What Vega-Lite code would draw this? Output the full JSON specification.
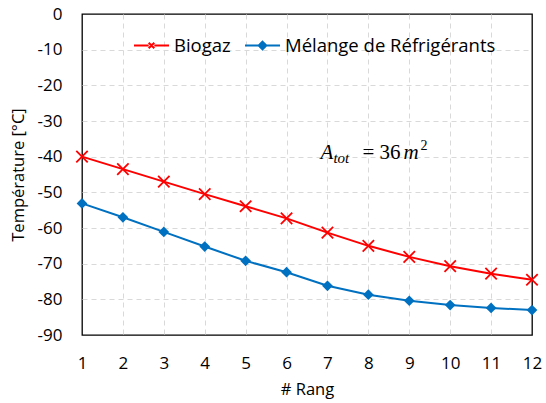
{
  "$schema": "https://vega.github.io/schema/vega-lite/v6.json",
  "width": 450,
  "height": 321,
  "autosize": {"type": "none"},
  "padding": {"left": 82, "top": 14, "right": 14, "bottom": 68},
  "background": "white",
  "config": {
    "font": "Open Sans",
    "view": {"stroke": "black", "strokeWidth": 1.3},
    "axis": {
      "domain": false,
      "grid": true,
      "gridColor": "#d9d9d9",
      "gridDash": [5, 4],
      "gridWidth": 1,
      "ticks": false,
      "labelFont": "Open Sans",
      "labelFontSize": 17,
      "labelColor": "#000000",
      "titleFont": "Open Sans",
      "titleFontSize": 16.5,
      "titleFontWeight": "normal",
      "titleColor": "#000000"
    }
  },
  "data": {
    "values": [
      {"rang": 1, "serie": "Biogaz", "temp": -40.0},
      {"rang": 2, "serie": "Biogaz", "temp": -43.5},
      {"rang": 3, "serie": "Biogaz", "temp": -47.0},
      {"rang": 4, "serie": "Biogaz", "temp": -50.5},
      {"rang": 5, "serie": "Biogaz", "temp": -53.9},
      {"rang": 6, "serie": "Biogaz", "temp": -57.3},
      {"rang": 7, "serie": "Biogaz", "temp": -61.3},
      {"rang": 8, "serie": "Biogaz", "temp": -65.0},
      {"rang": 9, "serie": "Biogaz", "temp": -68.1},
      {"rang": 10, "serie": "Biogaz", "temp": -70.7},
      {"rang": 11, "serie": "Biogaz", "temp": -72.8},
      {"rang": 12, "serie": "Biogaz", "temp": -74.5},
      {"rang": 1, "serie": "Mélange de Réfrigérants", "temp": -53.1},
      {"rang": 2, "serie": "Mélange de Réfrigérants", "temp": -57.0},
      {"rang": 3, "serie": "Mélange de Réfrigérants", "temp": -61.1},
      {"rang": 4, "serie": "Mélange de Réfrigérants", "temp": -65.2},
      {"rang": 5, "serie": "Mélange de Réfrigérants", "temp": -69.2},
      {"rang": 6, "serie": "Mélange de Réfrigérants", "temp": -72.4},
      {"rang": 7, "serie": "Mélange de Réfrigérants", "temp": -76.2},
      {"rang": 8, "serie": "Mélange de Réfrigérants", "temp": -78.7},
      {"rang": 9, "serie": "Mélange de Réfrigérants", "temp": -80.4},
      {"rang": 10, "serie": "Mélange de Réfrigérants", "temp": -81.6},
      {"rang": 11, "serie": "Mélange de Réfrigérants", "temp": -82.4},
      {"rang": 12, "serie": "Mélange de Réfrigérants", "temp": -83.0}
    ]
  },
  "encoding": {
    "x": {
      "field": "rang",
      "type": "quantitative",
      "scale": {"domain": [1, 12], "nice": false, "zero": false},
      "axis": {
        "title": "# Rang",
        "values": [1, 2, 3, 4, 5, 6, 7, 8, 9, 10, 11, 12],
        "labelPadding": 20,
        "titlePadding": 10,
        "labelFlush": false,
        "gridOpacity": {"condition": {"test": "datum.value === 1 || datum.value === 12", "value": 0}, "value": 1}
      }
    },
    "y": {
      "field": "temp",
      "type": "quantitative",
      "scale": {"domain": [-90, 0], "nice": false},
      "axis": {
        "title": "Température [°C]",
        "values": [0, -10, -20, -30, -40, -50, -60, -70, -80, -90],
        "labelExpr": "'' + datum.value",
        "labelPadding": 20,
        "titlePadding": 11,
        "gridOpacity": {"condition": {"test": "datum.value === 0 || datum.value === -90", "value": 0}, "value": 1}
      }
    }
  },
  "layer": [
    {
      "data": {"values": [{"temp": 0}, {"temp": -10}, {"temp": -20}, {"temp": -30}, {"temp": -40}, {"temp": -50}, {"temp": -60}, {"temp": -70}, {"temp": -80}, {"temp": -90}]},
      "mark": {"type": "tick", "orient": "horizontal", "size": 12, "thickness": 1.2, "color": "#000000", "clip": true, "opacity": 1},
      "encoding": {"x": {"datum": 1}}
    },
    {
      "data": {"values": [{"rang": 1}, {"rang": 2}, {"rang": 3}, {"rang": 4}, {"rang": 5}, {"rang": 6}, {"rang": 7}, {"rang": 8}, {"rang": 9}, {"rang": 10}, {"rang": 11}, {"rang": 12}]},
      "mark": {"type": "tick", "orient": "vertical", "size": 12, "thickness": 1.2, "color": "#000000", "clip": true, "opacity": 1},
      "encoding": {"y": {"datum": -90}}
    },
    {
      "mark": {"type": "line", "strokeWidth": 2},
      "encoding": {
        "color": {
          "field": "serie",
          "type": "nominal",
          "scale": {"domain": ["Biogaz", "Mélange de Réfrigérants"], "range": ["#ff0000", "#0070c0"]},
          "legend": {
            "title": null,
            "orient": "none",
            "direction": "horizontal",
            "legendX": 51,
            "legendY": 13,
            "symbolSize": 1225,
            "symbolStrokeWidth": 2,
            "labelFont": "Open Sans",
            "labelFontSize": 18.5,
            "labelColor": "#000000",
            "labelOffset": 4,
            "columnPadding": 10,
            "labelLimit": 400,
            "encode": {
              "symbols": {
                "update": {
                  "shape": {"signal": "datum.value === 'Biogaz' ? 'M-1,0L-0.16,0M0.16,0L1,0M-0.16,-0.16L0.16,0.16M-0.16,0.16L0.16,-0.16' : 'M-1,0L1,0M0,-0.22L0.22,0L0,0.22L-0.22,0Z'"},
                  "fill": {"signal": "datum.value === 'Biogaz' ? 'transparent' : '#0070c0'"},
                  "stroke": {"signal": "datum.value === 'Biogaz' ? '#ff0000' : '#0070c0'"},
                  "strokeWidth": {"value": 2}
                }
              }
            }
          }
        }
      }
    },
    {
      "transform": [{"filter": "datum.serie === 'Biogaz'"}],
      "mark": {
        "type": "point",
        "shape": "M-1,-1L1,1M-1,1L1,-1",
        "size": 130,
        "filled": false,
        "stroke": "#ff0000",
        "strokeWidth": 1.8,
        "opacity": 1
      }
    },
    {
      "transform": [{"filter": "datum.serie !== 'Biogaz'"}],
      "mark": {
        "type": "point",
        "shape": "diamond",
        "size": 115,
        "filled": true,
        "fill": "#0070c0",
        "opacity": 1
      }
    },
    {
      "transform": [{"filter": "datum.rang === 1 && datum.serie === 'Biogaz'"}],
      "mark": {"type": "text", "text": "A", "font": "Liberation Serif", "fontStyle": "italic", "fontWeight": "normal", "fontSize": 21, "align": "left", "baseline": "alphabetic", "dx": -52, "dy": 7, "color": "#000000"},
      "encoding": {"x": {"datum": 8.1}, "y": {"datum": -38.7}}
    },
    {
      "transform": [{"filter": "datum.rang === 1 && datum.serie === 'Biogaz'"}],
      "mark": {"type": "text", "text": "tot", "font": "Liberation Serif", "fontStyle": "italic", "fontWeight": "normal", "fontSize": 15, "align": "left", "baseline": "alphabetic", "dx": -39, "dy": 11, "color": "#000000"},
      "encoding": {"x": {"datum": 8.1}, "y": {"datum": -38.7}}
    },
    {
      "transform": [{"filter": "datum.rang === 1 && datum.serie === 'Biogaz'"}],
      "mark": {"type": "text", "text": "=", "font": "Liberation Serif", "fontWeight": "normal", "fontSize": 21, "align": "left", "baseline": "alphabetic", "dx": -10, "dy": 7, "color": "#000000"},
      "encoding": {"x": {"datum": 8.1}, "y": {"datum": -38.7}}
    },
    {
      "transform": [{"filter": "datum.rang === 1 && datum.serie === 'Biogaz'"}],
      "mark": {"type": "text", "text": "36", "font": "Liberation Serif", "fontWeight": "normal", "fontSize": 21, "align": "left", "baseline": "alphabetic", "dx": 7, "dy": 7, "color": "#000000"},
      "encoding": {"x": {"datum": 8.1}, "y": {"datum": -38.7}}
    },
    {
      "transform": [{"filter": "datum.rang === 1 && datum.serie === 'Biogaz'"}],
      "mark": {"type": "text", "text": "m", "font": "Liberation Serif", "fontStyle": "italic", "fontWeight": "normal", "fontSize": 21, "align": "left", "baseline": "alphabetic", "dx": 31, "dy": 7, "color": "#000000"},
      "encoding": {"x": {"datum": 8.1}, "y": {"datum": -38.7}}
    },
    {
      "transform": [{"filter": "datum.rang === 1 && datum.serie === 'Biogaz'"}],
      "mark": {"type": "text", "text": "2", "font": "Liberation Serif", "fontWeight": "normal", "fontSize": 14, "align": "left", "baseline": "alphabetic", "dx": 48, "dy": -2, "color": "#000000"},
      "encoding": {"x": {"datum": 8.1}, "y": {"datum": -38.7}}
    }
  ]
}
